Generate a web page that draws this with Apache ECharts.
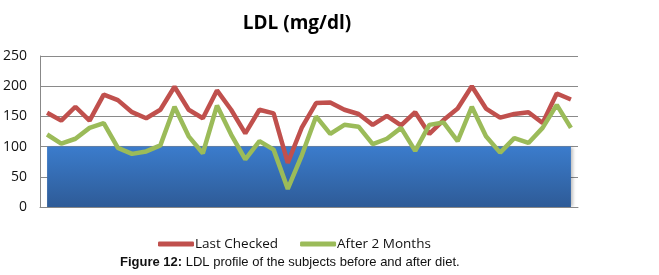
<!DOCTYPE html>
<html>
<head>
<meta charset="utf-8">
<script src="https://cdn.jsdelivr.net/npm/echarts@6/dist/echarts.min.js"></script>
<style>
html, body { margin: 0; padding: 0; background: #fff; }
#ldl { width: 659px; height: 275px; }
</style>
</head>
<body>
<div id="ldl"></div>
<script>
// subject numbers (x axis, labels hidden)
const subjects = Array.from({ length: 38 }, (_, i) => String(i + 1));
const lastChecked = [156, 143, 166, 143, 186, 177, 157, 147, 161, 199,
  161, 147, 193, 161, 122, 161, 155, 73, 132, 172,
  173, 161, 154, 136, 151, 135, 157, 121, 144, 163,
  200, 163, 148, 154, 157, 139, 188, 178];
const after2Months = [120, 105, 113, 131, 139, 98, 88, 92, 102, 166,
  117, 89, 168, 120, 79, 109, 95, 30, 86, 150,
  121, 136, 133, 104, 113, 131, 93, 136, 140, 109,
  166, 117, 90, 114, 106, 131, 169, 131];
const limitBand = subjects.map(() => 100);
const yTicks = [0, 50, 100, 150, 200, 250];

const chart = echarts.init(document.getElementById('ldl'));
const option = {
  backgroundColor: '#fff',
  animation: false,
  title: {
    text: 'LDL (mg/dl)',
    left: 292,
    top: 9,
    textAlign: 'center',
    textStyle: { fontFamily: 'Open Sans', fontWeight: 'bold', fontSize: 19, color: '#000' }
  },
  legend: {
    data: ['Last Checked', 'After 2 Months'],
    left: 153,
    top: 232,
    icon: 'roundRect',
    itemWidth: 36,
    itemHeight: 5,
    itemGap: 22,
    textStyle: { fontFamily: 'Open Sans', fontSize: 13.5, color: '#111', padding: [0, 0, 0, -4] }
  },
  grid: { left: 40, right: 81, top: 56, bottom: 68 },
  xAxis: {
    type: 'category',
    data: subjects,
    boundaryGap: true,
    axisLine: { lineStyle: { color: '#888' } },
    axisTick: { show: false },
    axisLabel: { show: false }
  },
  yAxis: {
    type: 'value',
    min: yTicks[0],
    max: yTicks[yTicks.length - 1],
    interval: 50,
    axisLine: { show: true, lineStyle: { color: '#888' } },
    axisTick: { show: false },
    axisLabel: { fontFamily: 'Open Sans', fontSize: 14, color: '#111', margin: 13 },
    splitLine: { lineStyle: { color: '#8a8a8a', width: 1 } }
  },
  series: [
    {
      name: 'limit',
      type: 'line',
      data: limitBand,
      symbol: 'none',
      lineStyle: { width: 0 },
      areaStyle: {
        opacity: 1,
        color: new echarts.graphic.LinearGradient(0, 0, 0, 1, [
          { offset: 0, color: '#3b7ccc' },
          { offset: 1, color: '#2e5b97' }
        ]),
        shadowColor: 'rgba(0,0,0,0.25)',
        shadowOffsetX: 2,
        shadowBlur: 3
      },
      z: 1
    },
    {
      name: 'Last Checked',
      type: 'line',
      data: lastChecked,
      symbol: 'none',
      color: '#c0504d',
      lineStyle: { width: 4.5, color: '#c0504d' },
      z: 3
    },
    {
      name: 'After 2 Months',
      type: 'line',
      data: after2Months,
      symbol: 'none',
      color: '#9bbb59',
      lineStyle: { width: 4.5, color: '#9bbb59' },
      z: 4
    }
  ],
  graphic: [
    {
      type: 'text',
      left: 120,
      top: 256,
      style: {
        text: '{b|Figure 12:} LDL profile of the subjects before and after diet.',
        rich: {
          b: { fontFamily: 'Liberation Sans', fontWeight: 'bold', fontSize: 13, fill: '#111' }
        },
        fontFamily: 'Liberation Sans',
        fontSize: 13,
        fill: '#111'
      }
    }
  ]
};
chart.setOption(option);
</script>
</body>
</html>
